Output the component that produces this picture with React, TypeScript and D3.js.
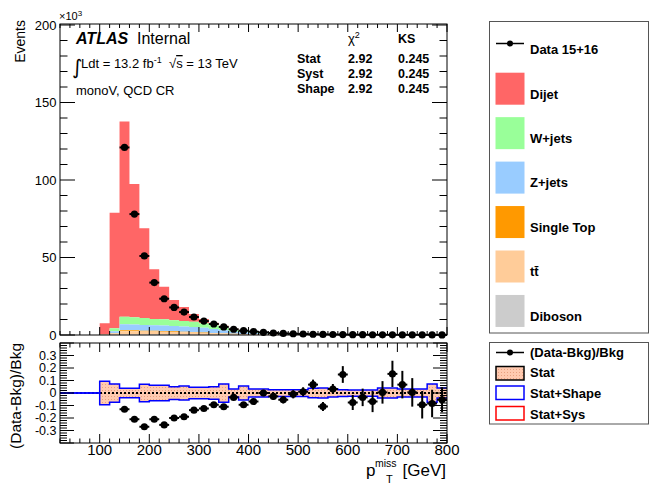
import React from "react";
import * as d3 from "d3";

// lower bin edges, GeV (bin width 20)
const binLow = [100, 120, 140, 160, 180, 200, 220, 240, 260, 280, 300, 320, 340, 360, 380, 400, 420, 440, 460, 480, 500, 520, 540, 560, 580, 600, 620, 640, 660, 680, 700, 720, 740, 760, 780];
const BIN_W = 20;

// stacked backgrounds, x10^3 events
const dijet = [7.3, 74.5, 126, 86, 58, 32, 21, 13, 9.0, 5.0, 2.8, 1.6, 1.0, 0.7, 0.55, 0.42, 0.32, 0.26, 0.2, 0.15, 0.12, 0.09, 0.09, 0.065, 0.05, 0.05, 0.04, 0.035, 0.025, 0.018, 0.015, 0.013, 0.012, 0.01, 0.008];
const wjets = [0.1, 1.8, 4.9, 4.6, 4.4, 4.1, 3.9, 3.7, 3.5, 3.3, 3.0, 2.4, 1.9, 1.2, 0.95, 0.7, 0.5, 0.4, 0.3, 0.23, 0.18, 0.13, 0.12, 0.09, 0.065, 0.065, 0.05, 0.04, 0.03, 0.022, 0.02, 0.017, 0.016, 0.013, 0.01];
const zjets = [0.1, 1.4, 3.8, 3.8, 3.7, 3.6, 3.6, 3.5, 3.4, 3.3, 3.0, 2.5, 2.0, 1.3, 1.05, 0.8, 0.55, 0.45, 0.37, 0.3, 0.24, 0.18, 0.16, 0.12, 0.09, 0.09, 0.07, 0.06, 0.045, 0.033, 0.028, 0.025, 0.024, 0.019, 0.016];
const singleTop = [0, 0.2, 0.6, 0.6, 0.5, 0.5, 0.5, 0.45, 0.4, 0.35, 0.3, 0.25, 0.2, 0.16, 0.13, 0.1, 0.08, 0.06, 0.05, 0.04, 0.03, 0.025, 0.02, 0.015, 0.012, 0.01, 0.008, 0.006, 0.005, 0.004, 0.003, 0.003, 0.002, 0.002, 0.002];
const ttbar = [0.1, 0.8, 2.2, 2.1, 2.0, 1.9, 1.8, 1.6, 1.5, 1.3, 1.1, 0.9, 0.7, 0.55, 0.4, 0.3, 0.23, 0.17, 0.13, 0.09, 0.07, 0.05, 0.05, 0.035, 0.025, 0.025, 0.02, 0.015, 0.012, 0.009, 0.008, 0.007, 0.006, 0.005, 0.004];
const diboson = [0, 0.1, 0.3, 0.3, 0.3, 0.3, 0.3, 0.3, 0.25, 0.25, 0.2, 0.2, 0.2, 0.15, 0.12, 0.1, 0.08, 0.06, 0.05, 0.04, 0.03, 0.025, 0.02, 0.015, 0.01, 0.01, 0.01, 0.008, 0.006, 0.005, 0.004, 0.004, 0.003, 0.003, 0.002];

// data, x10^3 events
const data = [null, null, 121, 78, 51, 33.8, 23.4, 17.8, 14.8, 11.6, 9.0, 7.1, 5.2, 3.7, 2.8, 2.2, 1.7, 1.3, 1.0, 0.8, 0.65, 0.5, 0.4, 0.33, 0.27, 0.22, 0.18, 0.15, 0.12, 0.1, 0.08, 0.065, 0.055, 0.045, 0.038];

// ratio panel
const ratio = [null, null, -0.13, -0.21, -0.27, -0.21, -0.255, -0.2, -0.19, -0.137, -0.124, -0.094, -0.11, -0.035, -0.094, -0.068, 0.0, -0.027, -0.054, -0.01, 0.01, 0.067, -0.108, 0.032, 0.148, -0.076, -0.035, -0.068, 0.005, 0.153, 0.067, 0.005, -0.094, -0.084, -0.054];
const ratioErr = [null, null, 0.004, 0.005, 0.006, 0.007, 0.008, 0.009, 0.01, 0.011, 0.012, 0.013, 0.015, 0.017, 0.02, 0.022, 0.025, 0.028, 0.03, 0.033, 0.036, 0.04, 0.036, 0.04, 0.067, 0.06, 0.07, 0.085, 0.09, 0.105, 0.11, 0.114, 0.11, 0.11, 0.1];
const statBand = [0.094, 0.073, 0.038, 0.038, 0.07, 0.062, 0.062, 0.051, 0.056, 0.046, 0.046, 0.05, 0.073, 0.032, 0.056, 0.032, 0.032, 0.027, 0.027, 0.027, 0.027, 0.038, 0.04, 0.032, 0.027, 0.025, 0.025, 0.025, 0.04, 0.04, 0.032, 0.032, 0.032, 0.073, 0.04];

const layers = [
  { key: "diboson", label: "Diboson", color: "#cccccc", values: diboson },
  { key: "ttbar", label: "tt\u0304", color: "#ffcc99", values: ttbar },
  { key: "singleTop", label: "Single Top", color: "#ff9900", values: singleTop },
  { key: "zjets", label: "Z+jets", color: "#99ccff", values: zjets },
  { key: "wjets", label: "W+jets", color: "#99ff99", values: wjets },
  { key: "dijet", label: "Dijet", color: "#ff6666", values: dijet },
];

const stats = [
  ["Stat", "2.92", "0.245"],
  ["Syst", "2.92", "0.245"],
  ["Shape", "2.92", "0.245"],
];

const FONT = "'Liberation Sans', Arial, Helvetica, sans-serif";
const L = 60, R = 447;
const MT = 24, MB = 335;
const RT = 343, RB = 443;

export default function App() {
  const x = d3.scaleLinear().domain([20, 800]).range([L, R]);
  const y = d3.scaleLinear().domain([0, 200]).range([MB, 25]);
  const yr = d3.scaleLinear().domain([-0.4, 0.4]).range([RB, RT]);

  const rows = binLow.map((lo, i) => {
    const r: any = { lo };
    layers.forEach((l) => (r[l.key] = l.values[i]));
    return r;
  });
  const stacked = d3.stack().keys(layers.map((l) => l.key))(rows);

  const area = d3
    .area<any>()
    .x((d) => x(d.x))
    .y0((d) => y(d.y0))
    .y1((d) => y(d.y1));

  const stepPts = (s: any) =>
    s.flatMap((d: any) => [
      { x: d.data.lo, y0: d[0], y1: d[1] },
      { x: d.data.lo + BIN_W, y0: d[0], y1: d[1] },
    ]);

  // ratio band
  const bandPts = binLow.flatMap((lo, i) => [
    { x: lo, h: statBand[i] },
    { x: lo + BIN_W, h: statBand[i] },
  ]);
  const bandArea = d3
    .area<any>()
    .x((d) => x(d.x))
    .y0((d) => yr(-d.h))
    .y1((d) => yr(d.h));
  const edge = (sign: number) =>
    d3
      .line<any>()
      .x((d) => x(d.x))
      .y((d) => yr(sign * d.h))([{ x: 20, h: 0 }, { x: 100, h: 0 }, ...bandPts]);

  const xMinor = d3.range(20, 801, 20);
  const xMajor = d3.range(100, 801, 100);
  const yMinor = d3.range(0, 201, 10);
  const yMajor = d3.range(0, 201, 50);
  const rMinor = d3.range(-0.4, 0.4001, 0.02);
  const rMajor = [-0.3, -0.2, -0.1, 0, 0.1, 0.2, 0.3];

  const tk = { stroke: "#000", strokeWidth: 1 };

  return (
    <svg
      width={650}
      height={484}
      style={{ position: "absolute", left: 0, top: 0, background: "#fff" }}
      fontFamily={FONT}
    >
      <defs>
        <pattern id="dots" width="3" height="3" patternUnits="userSpaceOnUse">
          <rect width="3" height="3" fill="#ffcab0" />
          <rect width="1" height="1" fill="#e8a080" />
        </pattern>
      </defs>

      {/* ---------- main panel ---------- */}
      {[...stacked].reverse().map((s, i) => (
        <path key={i} d={area(stepPts(s)) || ""} fill={layers[layers.length - 1 - i].color} />
      ))}

      {binLow.map((lo, i) =>
        data[i] == null ? null : (
          <g key={lo}>
            <line x1={x(lo)} x2={x(lo + BIN_W)} y1={y(data[i]!)} y2={y(data[i]!)} stroke="#000" strokeWidth={2} />
            <circle cx={x(lo + BIN_W / 2)} cy={y(data[i]!)} r={3.6} fill="#000" />
          </g>
        )
      )}

      <rect x={L} y={MT} width={R - L} height={MB - MT} fill="none" stroke="#000" strokeWidth={1} />
      {xMinor.map((v) => {
        const len = v % 100 === 0 ? 8 : 4;
        return (
          <g key={v}>
            <line x1={x(v)} x2={x(v)} y1={MB} y2={MB - len} {...tk} />
            <line x1={x(v)} x2={x(v)} y1={MT} y2={MT + len} {...tk} />
          </g>
        );
      })}
      {yMinor.map((v) => {
        const len = v % 50 === 0 ? 15 : 7.5;
        return (
          <g key={v}>
            <line x1={L} x2={L + len} y1={y(v)} y2={y(v)} {...tk} />
            <line x1={R} x2={R - len} y1={y(v)} y2={y(v)} {...tk} />
          </g>
        );
      })}
      {yMajor.map((v) => (
        <text key={v} x={56.5} y={y(v)} dy="0.35em" textAnchor="end" fontSize={13}>
          {v}
        </text>
      ))}
      <text x={59} y={20} fontSize={11}>
        ×10<tspan dy={-4} fontSize={8}>3</tspan>
      </text>
      <text transform="translate(25,20) rotate(-90)" textAnchor="end" fontSize={14}>
        Events
      </text>

      {/* labels */}
      <text x={76} y={44} fontSize={16} fontWeight="bold" fontStyle="italic">ATLAS</text>
      <text x={137} y={44} fontSize={16}>Internal</text>
      <text x={72} y={74} fontSize={20} fontFamily="'DejaVu Sans', sans-serif">∫</text>
      <text x={81} y={68} fontSize={13}>
        Ldt = 13.2 fb<tspan dy={-5} fontSize={9}>-1</tspan>
      </text>
      <text x={169} y={68} fontSize={13}>
        √<tspan textDecoration="overline">s</tspan> = 13 TeV
      </text>
      <text x={76} y={95} fontSize={13}>monoV, QCD CR</text>

      <text x={348} y={43} fontSize={13}>
        χ<tspan dy={-5} fontSize={9}>2</tspan>
      </text>
      <text x={398} y={43} fontSize={12.5} fontWeight="bold">KS</text>
      {stats.map((r, i) => (
        <g key={r[0]} fontSize={12.5} fontWeight="bold">
          <text x={297} y={63 + i * 15}>{r[0]}</text>
          <text x={348} y={63 + i * 15}>{r[1]}</text>
          <text x={398} y={63 + i * 15}>{r[2]}</text>
        </g>
      ))}

      {/* ---------- ratio panel ---------- */}
      <path d={bandArea(bandPts) || ""} fill="url(#dots)" />
      <line x1={L} x2={R} y1={yr(0)} y2={yr(0)} stroke="#000" strokeWidth={2} strokeDasharray="2,2" />
      <path d={edge(1) || ""} fill="none" stroke="#0000ff" strokeWidth={1.5} />
      <path d={edge(-1) || ""} fill="none" stroke="#0000ff" strokeWidth={1.5} />

      {binLow.map((lo, i) =>
        ratio[i] == null ? null : (
          <g key={lo}>
            <line x1={x(lo)} x2={x(lo + BIN_W)} y1={yr(ratio[i]!)} y2={yr(ratio[i]!)} stroke="#000" strokeWidth={2} />
            <line
              x1={x(lo + BIN_W / 2)}
              x2={x(lo + BIN_W / 2)}
              y1={yr(ratio[i]! - ratioErr[i]!)}
              y2={yr(ratio[i]! + ratioErr[i]!)}
              stroke="#000"
              strokeWidth={2}
            />
            <circle cx={x(lo + BIN_W / 2)} cy={yr(ratio[i]!)} r={3.6} fill="#000" />
          </g>
        )
      )}

      <rect x={L} y={RT} width={R - L} height={RB - RT} fill="none" stroke="#000" strokeWidth={1} />
      {xMinor.map((v) => {
        const len = v % 100 === 0 ? 9 : 4.5;
        return (
          <g key={v}>
            <line x1={x(v)} x2={x(v)} y1={RB} y2={RB - len} {...tk} />
            <line x1={x(v)} x2={x(v)} y1={RT} y2={RT + len} {...tk} />
          </g>
        );
      })}
      {rMinor.map((v, i) => {
        const len = i % 5 === 0 ? 14 : 7;
        return (
          <g key={i}>
            <line x1={L} x2={L + len} y1={yr(v)} y2={yr(v)} {...tk} />
            <line x1={R} x2={R - len} y1={yr(v)} y2={yr(v)} {...tk} />
          </g>
        );
      })}
      {rMajor.map((v) => (
        <text key={v} x={56.5} y={yr(v)} dy="0.35em" textAnchor="end" fontSize={12.5}>
          {v === 0 ? "0" : d3.format(".1f")(v).replace("\u2212", "-")}
        </text>
      ))}
      {xMajor.map((v) => (
        <text key={v} x={x(v)} y={455} textAnchor="middle" fontSize={15}>
          {v}
        </text>
      ))}
      <text transform="translate(21,343) rotate(-90)" textAnchor="end" fontSize={15.5}>
        (Data-Bkg)/Bkg
      </text>
      <text x={366} y={476} fontSize={17}>p</text>
      <text x={375} y={467} fontSize={10.5}>miss</text>
      <text x={386} y={483} fontSize={11}>T</text>
      <text x={446} y={476} fontSize={17} textAnchor="end">[GeV]</text>

      {/* ---------- legends ---------- */}
      <rect x={489.5} y={21.5} width={159} height={311.5} fill="#fff" stroke="#555" strokeWidth={1} />
      <line x1={496} x2={524} y1={43.5} y2={43.5} stroke="#000" strokeWidth={1.5} />
      <circle cx={510} cy={43.5} r={3} fill="#000" />
      <text x={530} y={49.5} dy="0.35em" fontSize={13} fontWeight="bold">Data 15+16</text>
      {[...layers].reverse().map((l, i) => (
        <g key={l.key}>
          <rect x={495.5} y={72.7 + i * 44.45} width={29} height={32} fill={l.color} />
          <text x={530} y={94 + i * 44.45} dy="0.35em" fontSize={13} fontWeight="bold">
            {l.label}
          </text>
        </g>
      ))}

      <rect x={489.5} y={342.5} width={159} height={81.5} fill="#fff" stroke="#555" strokeWidth={1} />
      <line x1={496} x2={524} y1={352.5} y2={352.5} stroke="#000" strokeWidth={1.5} />
      <circle cx={510} cy={352.5} r={3} fill="#000" />
      <text x={530} y={352.5} dy="0.35em" fontSize={13} fontWeight="bold">(Data-Bkg)/Bkg</text>
      <rect x={496} y={366.5} width={28} height={13.5} fill="url(#dots)" stroke="#000" strokeWidth={1.5} />
      <text x={530} y={372.5} dy="0.35em" fontSize={13} fontWeight="bold">Stat</text>
      <rect x={496} y={386} width={28} height={13.5} fill="#fff" stroke="#0000ff" strokeWidth={1.5} />
      <text x={530} y={393.5} dy="0.35em" fontSize={13} fontWeight="bold">Stat+Shape</text>
      <rect x={496} y={406.5} width={28} height={13.5} fill="#fff" stroke="#ff0000" strokeWidth={1.5} />
      <text x={530} y={414} dy="0.35em" fontSize={13} fontWeight="bold">Stat+Sys</text>
    </svg>
  );
}
